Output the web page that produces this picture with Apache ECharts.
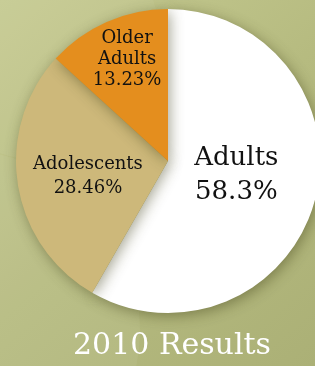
<!DOCTYPE html>
<html>
<head>
<meta charset="utf-8">
<script src="https://cdn.jsdelivr.net/npm/echarts@6/dist/echarts.min.js"></script>
<style>
  html, body { margin: 0; padding: 0; }
  #main { width: 315px; height: 366px; }
</style>
</head>
<body>
<div id="main"></div>
<script>
let groups = ['Adults', 'Adolescents', 'Older\nAdults'];
let shares = [58.3, 28.46, 13.23];
let colors = ['#ffffff', '#cdb87a', '#e48e1e'];
let chartTitle = '2010 Results';

let chartDom = document.getElementById('main');
let myChart = echarts.init(chartDom);

// per slice label tweaks
let labelStyle = [
  { fontSize: 26, lineHeight: 34, offset: [-8, -6] },
  { fontSize: 18, lineHeight: 24, offset: [-2, 3] },
  { fontSize: 18, lineHeight: 21, offset: [-9, -29] }
];

let pieData = [];
for (let i = 0; i < groups.length; i++) {
  pieData.push({
    name: groups[i],
    value: shares[i],
    itemStyle: { color: colors[i] },
    label: labelStyle[i]
  });
}

let option = {
  animation: false,
  backgroundColor: {
    type: 'linear', x: 0, y: 0, x2: 1, y2: 1,
    colorStops: [
      { offset: 0, color: '#c6cb92' },
      { offset: 0.5, color: '#b6bb80' },
      { offset: 1, color: '#abb076' }
    ]
  },
  graphic: [
    {
      type: 'circle', z: -10,
      shape: { cx: -40, cy: 330, r: 180 },
      style: { fill: 'rgba(255,255,255,0.06)' }
    },
    {
      type: 'circle', z: -10,
      shape: { cx: 40, cy: 40, r: 120 },
      style: { fill: 'rgba(255,255,255,0.05)' }
    }
  ],
  title: {
    text: chartTitle,
    left: 68,
    top: 326,
    textStyle: {
      color: '#ffffff',
      fontFamily: 'DejaVu Serif',
      fontWeight: 'normal',
      fontSize: 30
    }
  },
  series: [
    {
      type: 'pie',
      center: [168, 161],
      radius: 152,
      startAngle: 90,
      clockwise: true,
      data: pieData,
      itemStyle: {
        shadowBlur: 14,
        shadowColor: 'rgba(60,60,20,0.45)',
        shadowOffsetX: 2,
        shadowOffsetY: 3
      },
      label: {
        position: 'inside',
        color: '#111',
        fontFamily: 'DejaVu Serif',
        formatter: function (p) {
          return p.name + '\n' + p.value + '%';
        }
      },
      labelLine: { show: false },
      emphasis: { disabled: true }
    }
  ]
};

myChart.setOption(option);
</script>
</body>
</html>
